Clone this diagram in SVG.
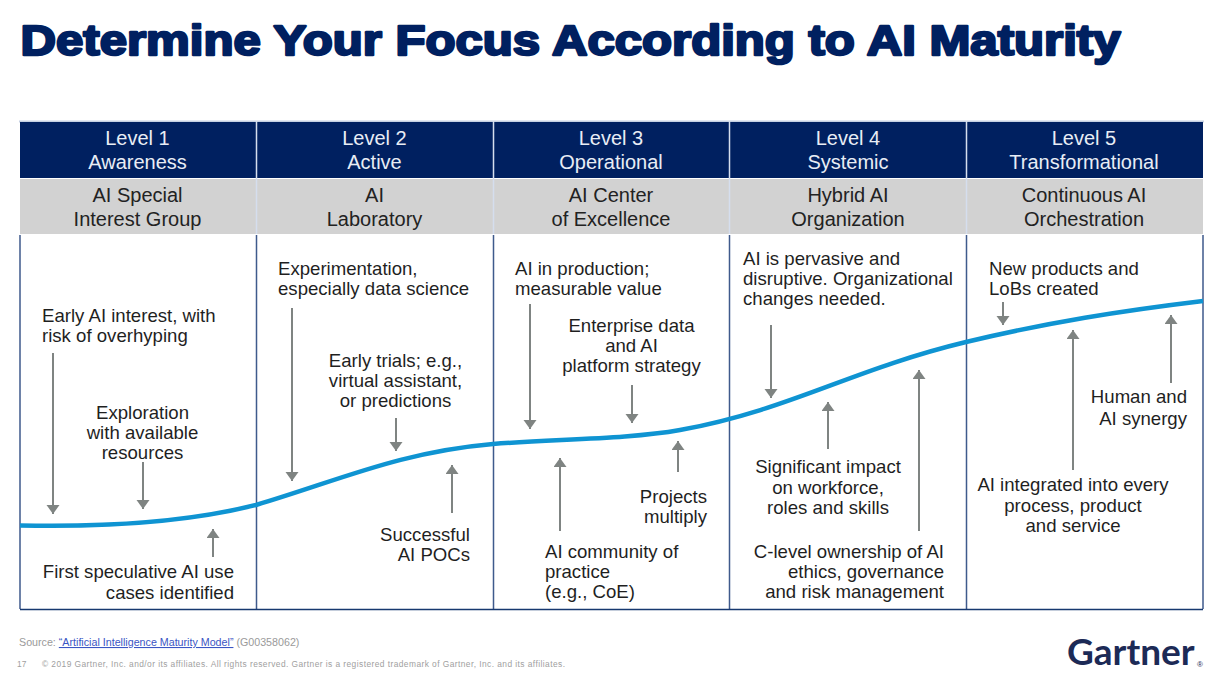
<svg xmlns="http://www.w3.org/2000/svg" width="1222" height="683" viewBox="0 0 1222 683">
<style>
text{font-family:"Liberation Sans",Arial,sans-serif}
.t{font-size:18.600px;fill:#1f1f1f}
.h{font-size:20px;fill:#e8edf5;text-anchor:middle}
.s{font-size:20px;fill:#222;text-anchor:middle}
.m{text-anchor:middle}.e{text-anchor:end}
.a{stroke:#7f8482;stroke-width:2;fill:none;marker-end:url(#ah)}
.v{stroke:#3f5a8c;stroke-width:1.5}
#logo{font-family:Lato,"Liberation Sans",sans-serif}
</style>
<defs><marker id="ah" markerUnits="userSpaceOnUse" markerWidth="10" markerHeight="14" refX="9" refY="6.500" orient="auto"><path d="M0,0L9,6.500L0,13Z" fill="#7f8482"/></marker></defs>
<rect width="1222" height="683" fill="#fff"/>
<text id="title" x="20.500" y="54.500" font-size="43" font-weight="700" fill="#002060" stroke="#002060" stroke-width="2.400" stroke-linejoin="round" textLength="1100" lengthAdjust="spacingAndGlyphs">Determine Your Focus According to AI Maturity</text>
<g id="table">
<rect x="19" y="120.500" width="1185" height="2" fill="#c5d0e2"/>
<rect x="20" y="122" width="1183" height="56" fill="#002060"/>
<rect x="20" y="179" width="1183" height="55" fill="#d2d2d2"/>
<path d="M256.500 121V234M493.500 121V234M729.500 121V234M966.500 121V234" stroke="#d5deee" stroke-width="1.500"/>
<path d="M20 235V609M256.500 235V609M493.500 235V609M729.500 235V609M966.500 235V609M1203 235V609" class="v"/>
<path d="M20 609.500H1203" stroke="#17386f" stroke-width="1.500"/>
</g>
<g id="connectors">
<path d="M20 525.500C90 527 180 524 256 505C340 480 400 452 493 444C560 439 630 439 680 430C790 410 850 370 966 342C1050 322 1120 311 1203 301" fill="none" stroke="#0f94d2" stroke-width="4.500"/>
<path class="a" d="M53 353V514"/><path class="a" d="M143 462V509"/><path class="a" d="M213 557V529"/>
<path class="a" d="M292 308V481"/><path class="a" d="M396 418V451"/><path class="a" d="M452 513V465"/>
<path class="a" d="M530 304V429"/><path class="a" d="M632 385V423"/><path class="a" d="M560 531V458"/><path class="a" d="M678 472V441"/>
<path class="a" d="M771 325V398"/><path class="a" d="M828 449V402"/><path class="a" d="M919 531V370"/>
<path class="a" d="M1003 302V325"/><path class="a" d="M1073 470V330"/><path class="a" d="M1171 383V315"/>
</g>
<g id="level1"><text class="h" x="137.500" y="145">Level 1</text><text class="h" x="137.500" y="169">Awareness</text><text class="s" x="137.500" y="202">AI Special</text><text class="s" x="137.500" y="226">Interest Group</text>
<text class="t" x="42" y="322">Early AI interest, with</text><text class="t" x="42" y="342">risk of overhyping</text>
<text class="t m" x="142.500" y="419">Exploration</text><text class="t m" x="142.500" y="439">with available</text><text class="t m" x="142.500" y="459">resources</text>
<text class="t e" x="234" y="578">First speculative AI use</text><text class="t e" x="234" y="599">cases identified</text></g>
<g id="level2"><text class="h" x="374.500" y="145">Level 2</text><text class="h" x="374.500" y="169">Active</text><text class="s" x="374.500" y="202">AI</text><text class="s" x="374.500" y="226">Laboratory</text>
<text class="t" x="278" y="275">Experimentation,</text><text class="t" x="278" y="295">especially data science</text>
<text class="t m" x="395.500" y="367">Early trials; e.g.,</text><text class="t m" x="395.500" y="387">virtual assistant,</text><text class="t m" x="395.500" y="407">or predictions</text>
<text class="t e" x="470" y="541">Successful</text><text class="t e" x="470" y="561">AI POCs</text></g>
<g id="level3"><text class="h" x="611" y="145">Level 3</text><text class="h" x="611" y="169">Operational</text><text class="s" x="611" y="202">AI Center</text><text class="s" x="611" y="226">of Excellence</text>
<text class="t" x="515" y="275">AI in production;</text><text class="t" x="515" y="295">measurable value</text>
<text class="t m" x="631.500" y="332">Enterprise data</text><text class="t m" x="631.500" y="352">and AI</text><text class="t m" x="631.500" y="372">platform strategy</text>
<text class="t e" x="707" y="503">Projects</text><text class="t e" x="707" y="523">multiply</text>
<text class="t" x="545" y="558">AI community of</text><text class="t" x="545" y="578">practice</text><text class="t" x="545" y="598">(e.g., CoE)</text></g>
<g id="level4"><text class="h" x="848" y="145">Level 4</text><text class="h" x="848" y="169">Systemic</text><text class="s" x="848" y="202">Hybrid AI</text><text class="s" x="848" y="226">Organization</text>
<text class="t" x="743" y="265">AI is pervasive and</text><text class="t" x="743" y="285">disruptive. Organizational</text><text class="t" x="743" y="305">changes needed.</text>
<text class="t m" x="828" y="473">Significant impact</text><text class="t m" x="828" y="494">on workforce,</text><text class="t m" x="828" y="514">roles and skills</text>
<text class="t e" x="944" y="558">C-level ownership of AI</text><text class="t e" x="944" y="578">ethics, governance</text><text class="t e" x="944" y="598">and risk management</text></g>
<g id="level5"><text class="h" x="1084" y="145">Level 5</text><text class="h" x="1084" y="169">Transformational</text><text class="s" x="1084" y="202">Continuous AI</text><text class="s" x="1084" y="226">Orchestration</text>
<text class="t" x="989" y="275">New products and</text><text class="t" x="989" y="295">LoBs created</text>
<text class="t e" x="1187" y="403">Human and</text><text class="t e" x="1187" y="425">AI synergy</text>
<text class="t m" x="1073" y="491">AI integrated into every</text><text class="t m" x="1073" y="512">process, product</text><text class="t m" x="1073" y="532">and service</text></g>
<g id="footer">
<text x="19" y="646" font-size="10.700" fill="#9a9a9a">Source: <tspan fill="#3a55c4" text-decoration="underline">“Artificial Intelligence Maturity Model”</tspan> (G00358062)</text>
<text x="17" y="667" font-size="8.400" fill="#a0a0a0">17</text>
<text x="42" y="667" font-size="8.400" fill="#a0a0a0" textLength="523">© 2019 Gartner, Inc. and/or its affiliates. All rights reserved. Gartner is a registered trademark of Gartner, Inc. and its affiliates.</text>
<text id="logo" x="1067" y="665" font-size="37" font-weight="700" fill="#1c2a56">Gartner</text>
<text x="1197" y="667" font-size="8" fill="#1c2a56">®</text>
</g>
</svg>
